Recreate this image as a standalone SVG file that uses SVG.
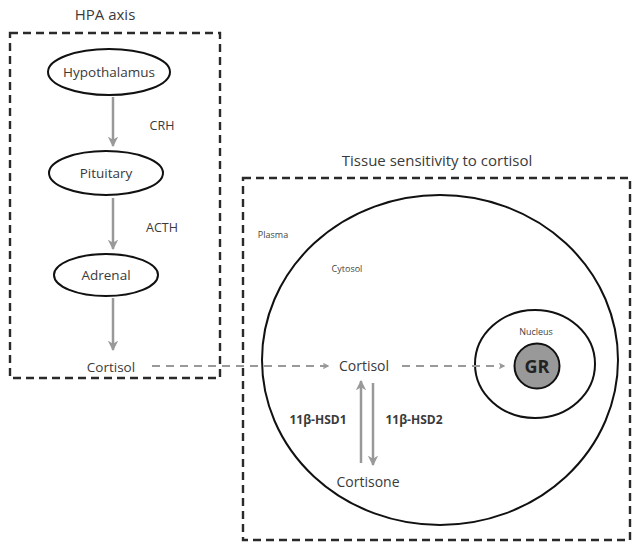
<svg xmlns="http://www.w3.org/2000/svg" width="632" height="545" viewBox="0 0 632 545">
<style>
text{font-family:"Open Sans","Liberation Sans",sans-serif;fill:#3a3a3a;text-anchor:middle}
.box{fill:none;stroke:#2a2a2a;stroke-width:2.4;stroke-dasharray:8,5}
.node{fill:#fff;stroke:#111;stroke-width:2}
.cell{fill:none;stroke:#111;stroke-width:2}
.arr{stroke:#999;stroke-width:2.5;fill:none}
.dash{stroke:#999;stroke-width:2.2;fill:none;stroke-dasharray:8,6}
.small{font-size:9px;fill:#444}
</style>
<defs>
<marker id="ah" viewBox="0 0 10 10" refX="9" refY="5" markerWidth="4.2" markerHeight="4.2" orient="auto">
<path d="M0,0 L10,5 L0,10 L3,5 Z" fill="#999"/>
</marker>
<marker id="chev" viewBox="0 0 10 10" refX="9" refY="5" markerWidth="6" markerHeight="6" orient="auto" markerUnits="userSpaceOnUse">
<path d="M1,1 L9,5 L1,9" fill="none" stroke="#999" stroke-width="2"/>
</marker>
</defs>
<rect width="632" height="545" fill="#fff"/>
<text x="105" y="20" font-size="15">HPA axis</text>
<rect class="box" x="10" y="33" width="210" height="345"/>
<text x="437" y="166" font-size="15">Tissue sensitivity to cortisol</text>
<rect class="box" x="243" y="178" width="387" height="362"/>
<g id="cell"><ellipse class="cell" cx="440" cy="360" rx="178" ry="165"/></g>
<g id="nucleus"><ellipse class="cell" cx="535" cy="364" rx="60" ry="54"/></g>
<g id="gr"><circle cx="537" cy="366" r="22.5" fill="#999" stroke="#111" stroke-width="2"/><text x="537" y="373" font-size="18" font-weight="bold" style="fill:#222">GR</text></g>
<g id="connectors">
<line class="arr" x1="113" y1="97" x2="113" y2="146" marker-end="url(#ah)"/>
<line class="arr" x1="113" y1="198" x2="113" y2="249" marker-end="url(#ah)"/>
<line class="arr" x1="113" y1="298" x2="113" y2="350" marker-end="url(#ah)"/>
<line class="dash" x1="152" y1="366" x2="328" y2="366" marker-end="url(#chev)"/>
<line class="dash" x1="402" y1="366" x2="504" y2="366" marker-end="url(#chev)"/>
<line class="arr" x1="361" y1="463" x2="361" y2="381" marker-end="url(#ah)"/>
<line class="arr" x1="373" y1="383" x2="373" y2="465" marker-end="url(#ah)"/>
</g>
<g id="hypothalamus"><ellipse class="node" cx="109" cy="72" rx="61" ry="23"/><text x="109" y="77" font-size="13.5">Hypothalamus</text></g>
<g id="pituitary"><ellipse class="node" cx="106" cy="173" rx="57" ry="22"/><text x="106" y="178" font-size="13.5">Pituitary</text></g>
<g id="adrenal"><ellipse class="node" cx="106" cy="275" rx="52" ry="21"/><text x="106" y="280" font-size="13.5">Adrenal</text></g>
<text x="162" y="130" font-size="12.5">CRH</text>
<text x="162" y="232" font-size="12.5">ACTH</text>
<g id="cortisol-hpa"><text x="111" y="372" font-size="13.5">Cortisol</text></g>
<text class="small" x="273" y="238">Plasma</text>
<text class="small" x="347" y="272">Cytosol</text>
<text class="small" x="536" y="335">Nucleus</text>
<g id="cortisol-cell"><text x="364" y="371" font-size="14">Cortisol</text></g>
<g id="cortisone"><text x="368" y="487" font-size="14">Cortisone</text></g>
<text x="318" y="424" font-size="12" font-weight="bold">11β-HSD1</text>
<text x="414" y="424" font-size="12" font-weight="bold">11β-HSD2</text>
</svg>
